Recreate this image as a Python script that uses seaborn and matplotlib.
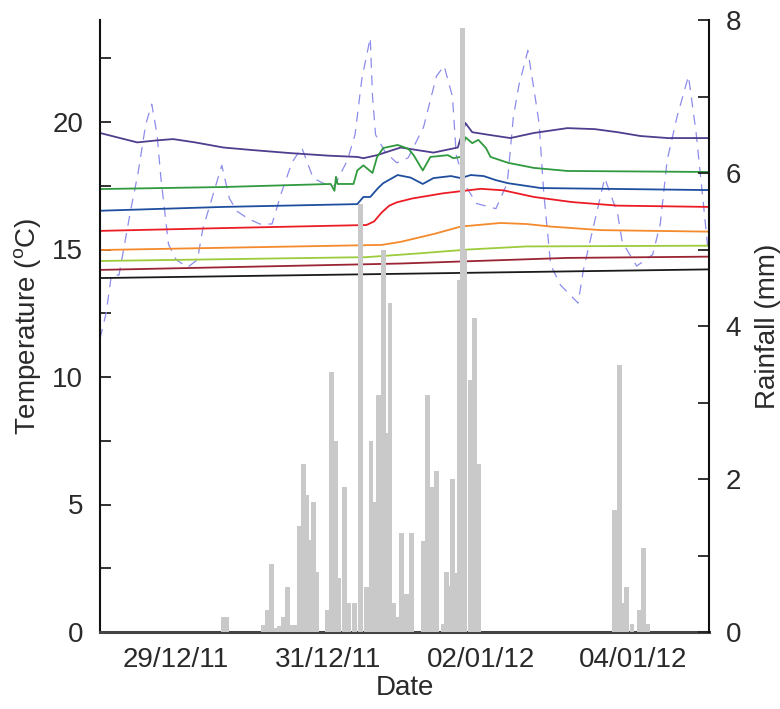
import numpy as np
import pandas as pd
import matplotlib
matplotlib.use("Agg")
import matplotlib.pyplot as plt
import seaborn as sns
from matplotlib.ticker import MultipleLocator, FixedLocator, FixedFormatter

# ---------------- data (days since 28/12/11 00:00) ----------------
purple_day = [0, 0.25, 0.49, 0.75, 0.96, 1.25, 1.62, 2.0, 2.5, 3.0, 3.38, 3.46, 3.64, 3.95, 4.38, 4.70, 4.80, 4.89, 5.1,
              5.39, 5.70, 6.14, 6.50, 6.80, 7.10, 7.46, 8.0]
purple_temp = [19.57, 19.38, 19.2, 19.28, 19.33, 19.2, 19.0, 18.9, 18.78, 18.68, 18.63, 18.58, 18.7, 19.0, 18.8, 19.0,
               19.96, 19.6, 19.5, 19.37, 19.57, 19.76, 19.72, 19.6, 19.45, 19.37, 19.37]

green_day = [0, 1.62, 3.03, 3.08, 3.10, 3.12, 3.33, 3.38, 3.46, 3.58, 3.64, 3.72, 3.91, 4.05, 4.12, 4.24, 4.34, 4.57,
             4.64, 4.74, 4.80, 4.89, 4.97, 5.07, 5.13, 5.36, 5.70, 6.14, 8.0]
green_temp = [17.37, 17.45, 17.57, 17.3, 17.85, 17.57, 17.57, 18.1, 18.3, 18.0, 18.63, 18.98, 19.1, 18.95, 18.7, 18.1,
              18.63, 18.7, 18.58, 18.63, 19.4, 19.17, 19.3, 18.98, 18.63, 18.4, 18.2, 18.08, 18.04]

blue_day = [0, 1.62, 3.38, 3.46, 3.55, 3.65, 3.72, 3.91, 4.08, 4.24, 4.38, 4.61, 4.74, 4.87, 5.04, 5.2, 5.36, 5.79, 8.0]
blue_temp = [16.52, 16.67, 16.78, 17.06, 17.06, 17.4, 17.6, 17.92, 17.82, 17.57, 17.8, 17.88, 17.8, 17.92, 17.88,
             17.72, 17.6, 17.41, 17.33]

red_day = [0, 1.62, 3.5, 3.6, 3.7, 3.8, 3.9, 4.1, 4.5, 5.0, 5.3, 5.7, 6.2, 6.8, 8.0]
red_temp = [15.73, 15.84, 15.96, 16.1, 16.45, 16.72, 16.85, 17.0, 17.2, 17.38, 17.32, 17.06, 16.86, 16.72, 16.67]

orange_day = [0, 3.7, 3.95, 4.4, 4.74, 5.26, 5.6, 5.92, 6.58, 8.0]
orange_temp = [14.98, 15.18, 15.3, 15.62, 15.9, 16.04, 16.0, 15.9, 15.76, 15.7]

lime_day = [0, 3.5, 4.2, 4.84, 5.6, 8.0]
lime_temp = [14.55, 14.7, 14.85, 15.0, 15.12, 15.15]

darkred_day = [0, 3.95, 6.14, 8.0]
darkred_temp = [14.2, 14.45, 14.67, 14.72]

black_day = [0, 4.0, 8.0]
black_temp = [13.88, 14.05, 14.22]

air_day = [0.00, 0.08, 0.15, 0.25, 0.40, 0.50, 0.60, 0.68, 0.75, 0.80, 0.90, 1.00, 1.15, 1.28, 1.35, 1.45, 1.60,
           1.70, 1.80, 1.95, 2.10, 2.26, 2.38, 2.52, 2.65, 2.80, 2.93, 3.08, 3.25, 3.35, 3.44, 3.55, 3.58, 3.62,
           3.75, 3.90, 4.05, 4.25, 4.42, 4.52, 4.63, 4.68, 4.80, 4.95, 5.20, 5.35, 5.43, 5.50, 5.62, 5.71, 5.77,
           5.80, 5.83, 5.92, 6.05, 6.28, 6.35, 6.49, 6.63, 6.80, 6.86, 7.05, 7.26, 7.36, 7.45, 7.58, 7.73, 7.83,
           7.96, 8.00]
air_temp = [11.5, 12.5, 14.0, 14.0, 16.5, 18.0, 19.9, 20.7, 19.5, 17.8, 15.2, 14.6, 14.3, 14.6, 15.8, 16.8, 18.3,
            17.0, 16.5, 16.2, 16.0, 16.0, 17.2, 18.4, 19.0, 17.8, 17.6, 17.5, 18.5, 19.5, 21.7, 23.3, 21.0, 19.5,
            18.8, 18.4, 18.6, 19.8, 21.8, 22.2, 21.0, 18.7, 17.5, 16.8, 16.6, 17.6, 20.2, 21.4, 22.8, 21.1, 19.9,
            18.5, 17.2, 14.4, 13.6, 12.9, 14.2, 16.0, 17.8, 16.4, 15.3, 14.35, 14.8, 16.0, 18.5, 20.2, 21.8, 19.6,
            15.8, 14.6]

rain_day = [1.62, 1.66, 2.14, 2.20, 2.25, 2.29, 2.36, 2.41, 2.46, 2.53, 2.58, 2.62, 2.67, 2.71, 2.75, 2.80, 2.85, 2.99,
            3.04, 3.09, 3.14, 3.21, 3.26, 3.34, 3.42, 3.50, 3.56, 3.61, 3.66, 3.72, 3.78, 3.81, 3.86, 3.91, 3.96,
            4.03, 4.09, 4.14, 4.25, 4.30, 4.36, 4.42, 4.51, 4.55, 4.59, 4.63, 4.68, 4.72, 4.76, 4.79, 4.86, 4.92,
            4.97, 6.76, 6.82, 6.87, 6.92, 6.99, 7.09, 7.14, 7.20]
rain_mm = [0.2, 0.2, 0.09, 0.29, 0.89, 0.05, 0.08, 0.2, 0.59, 0.09, 0.09, 1.39, 2.2, 1.79, 1.2, 1.7, 0.78, 0.29,
           3.4, 2.5, 0.71, 1.9, 0.38, 0.38, 5.6, 0.59, 2.5, 1.7, 3.1, 5.0, 2.6, 4.3, 0.38, 0.2, 1.29,
           0.5, 1.29, 0.0, 1.19, 3.1, 1.9, 2.1, 0.1, 0.79, 0.6, 2.0, 0.77, 4.6, 7.9, 5.0, 3.3, 4.1,
           2.2, 1.6, 3.49, 0.38, 0.59, 0.1, 0.29, 1.1, 0.1]

series_names = ["purple", "green", "blue", "red", "orange", "lime", "darkred", "black"]
series_colors = ["#4f3d8e", "#2f9a3e", "#1f4e9e", "#ec1c24", "#f48a2c", "#9ccb3b", "#9a2433", "#1a1a1a"]
air_color = "#8c8cec"
rain_color = "#c9c9c9"

date_tick_labels = ["29/12/11", "", "31/12/11", "", "02/01/12", "", "04/01/12"]

# ---------------- build long table ----------------
all_days = [purple_day, green_day, blue_day, red_day, orange_day, lime_day, darkred_day, black_day]
all_temps = [purple_temp, green_temp, blue_temp, red_temp, orange_temp, lime_temp, darkred_temp, black_temp]
frames = []
for name, d, t in zip(series_names, all_days, all_temps):
    frames.append(pd.DataFrame({"day": d, "temp": t, "series": name}))
df = pd.concat(frames, ignore_index=True)

# ---------------- style ----------------
sns.set_theme(style="white")
plt.rcParams["font.family"] = ["Liberation Sans", "DejaVu Sans"]
plt.rcParams["mathtext.fontset"] = "custom"
plt.rcParams["mathtext.rm"] = "Liberation Sans"
FS = 20

fig = plt.figure(figsize=(7.8, 7.09), dpi=100)
ax = fig.add_axes([100 / 780, 1 - 632 / 709, 609 / 780, 612 / 709])

sns.lineplot(x=air_day, y=air_temp, ax=ax, color=air_color, linewidth=0.9,
             linestyle=(0, (8, 6)), estimator=None, sort=False)
sns.lineplot(data=df, x="day", y="temp", hue="series", hue_order=series_names,
             palette=dict(zip(series_names, series_colors)), ax=ax, linewidth=1.3,
             estimator=None, sort=False, legend=False)

ax2 = ax.twinx()
ax2.bar(rain_day, rain_mm, width=0.062, color=rain_color, linewidth=0, align="center")

ax.set_xlim(0, 8)
ax.set_ylim(0, 24)
ax2.set_ylim(0, 8)

ax.xaxis.set_major_locator(FixedLocator(list(range(1, 1 + len(date_tick_labels)))))
ax.xaxis.set_major_formatter(FixedFormatter(date_tick_labels))
ax.yaxis.set_major_locator(MultipleLocator(5))
ax.yaxis.set_minor_locator(MultipleLocator(2.5))
ax2.yaxis.set_major_locator(MultipleLocator(2))
ax2.yaxis.set_minor_locator(MultipleLocator(1))

for a in (ax, ax2):
    a.spines["top"].set_visible(False)
    a.tick_params(which="both", direction="in", length=8, width=1.3, colors="#222222",
                  labelsize=FS, labelcolor="#2a2a2a")
ax.tick_params(axis="x", pad=11)
ax.tick_params(axis="y", pad=12)
ax2.tick_params(axis="y", pad=12)

ax.spines["left"].set_linewidth(1.5)
ax.spines["left"].set_color("#111111")
ax.spines["bottom"].set_linewidth(2.2)
ax.spines["bottom"].set_color("#444444")
ax.spines["right"].set_visible(False)
ax2.spines["left"].set_visible(False)
ax2.spines["bottom"].set_visible(False)
ax2.spines["right"].set_linewidth(1.5)
ax2.spines["right"].set_color("#111111")

ax.set_xlabel("Date", fontsize=FS, color="#2a2a2a", labelpad=1)
ax.set_ylabel("Temperature ($^{\\mathrm{o}}$C)", fontsize=FS, color="#2a2a2a", labelpad=6)
ax2.set_ylabel("Rainfall (mm)", fontsize=FS, color="#2a2a2a", labelpad=10)

fig.savefig("out.png", dpi=100, facecolor="white")
